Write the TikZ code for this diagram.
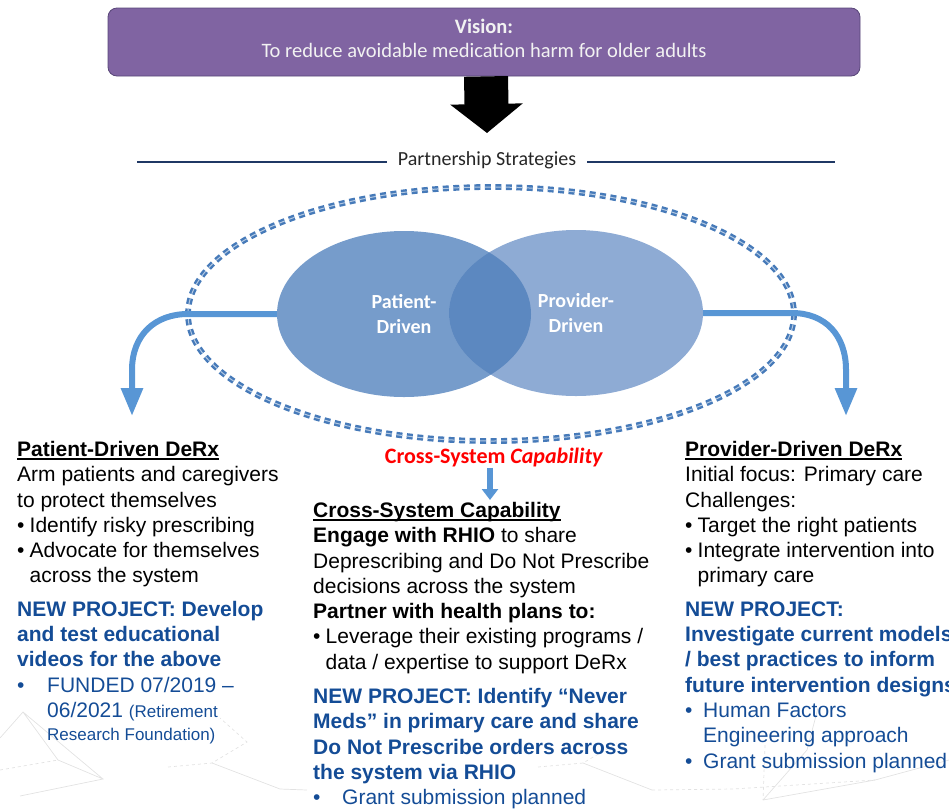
\documentclass[tikz,border=0pt]{standalone}
\usepackage{fontspec}
\setmainfont{Liberation Sans}
\newfontfamily\cali{Carlito}
\usetikzlibrary{arrows.meta,shapes.geometric,positioning}

\definecolor{visionpurple}{RGB}{128,100,162}
\definecolor{visionedge}{RGB}{88,70,120}
\definecolor{stratnavy}{RGB}{31,56,100}
\definecolor{ringblue}{RGB}{70,122,185}
\definecolor{patblue}{RGB}{118,156,203}
\definecolor{provblue}{RGB}{142,171,212}
\definecolor{bothblue}{RGB}{92,136,192}
\definecolor{flowblue}{RGB}{88,150,213}
\definecolor{projblue}{RGB}{20,76,150}
\definecolor{netgray}{RGB}{226,226,226}

\newcommand\hd[1]{\setbox0\hbox{\bfseries #1}\rlap{\rule[-3.6pt]{\wd0}{1.8pt}}\box0}
\newcommand\bu{\makebox[12.5pt][l]{\textbullet}}
\newcommand\ind{\hspace*{12.5pt}}
\newcommand\np[1]{{\color{projblue}\bfseries #1}}

\begin{document}
\begin{tikzpicture}[x=1pt,y=-1pt,
  vision box/.style={rectangle,rounded corners=9pt,fill=visionpurple,draw=visionedge,line width=0.8pt,minimum width=752pt,minimum height=68pt},
  cali text/.style={font=\cali\fontsize{20}{24}\selectfont,align=center,inner sep=0pt},
  venn/.style={ellipse,inner sep=0pt,minimum width=254pt,minimum height=166pt,text=white,font=\cali\bfseries\fontsize{20}{25}\selectfont,align=center},
  flow/.style={draw=flowblue,line width=6pt,-{Triangle[width=21pt,length=28pt]}},
  block/.style={anchor=north west,inner sep=0pt,align=left,font=\fontsize{21}{25.3}\selectfont}]
  \useasboundingbox (0,0) rectangle (949,809);
  % faint network behind
  \draw[netgray,line width=0.7pt] (0,738) -- (23,712) -- (58,760) -- (103,779) -- (20,796)
    (23,712) -- (103,779) (212,763) -- (280,789) -- (307,790) (583,763) -- (652,790)
    (763,800) -- (875,780) -- (949,760) (818,708) -- (807,750) -- (763,800);
  \draw[netgray,line width=0.7pt,dashed] (0,770) -- (58,760) (168,767) -- (212,763) -- (247,742) -- (220,718)
    (538,767) -- (583,763) -- (617,743) (652,790) -- (733,789) -- (875,780) (765,745) -- (763,800);

  % vision
  \node[vision box] (vis) at (484,42) {};
  \node[cali text,text=white!95!black,font=\cali\fontsize{20.5}{24}\selectfont] (vistxt) at ([yshift=4pt]vis.center) {\bfseries Vision:\\To reduce avoidable medication harm for older adults};
  \coordinate (vtip) at (487,133);
  \draw[line width=44pt,-{Triangle[width=71pt,length=29pt]}] ([xshift=2pt]vis.south) -- (vtip);

  % partnership strategies
  \node[cali text,text=black!85,inner xsep=11pt] (ps) at (487,160) {Partnership Strategies};
  \coordinate (psl) at (137,162);
  \coordinate (psr) at (835,162);
  \draw[stratnavy,line width=2pt] (psl) -- (ps.west |- psl) (ps.east |- psr) -- (psr);

  \draw[ringblue,line width=2.4pt,double=ringblue!40!white,double distance=1pt,dash pattern=on 6pt off 4.5pt] (491,314) ellipse [x radius=303,y radius=127];

  % venn
  \node[venn,fill=patblue] (pat) at (404,314) {Patient-\\Driven};
  \node[venn,fill=provblue] (prov) at (576,313) {Provider-\\Driven};
  \begin{scope}
    \clip (pat.center) ellipse [x radius=127,y radius=83];
    \fill[bothblue] (prov.center) ellipse [x radius=127,y radius=83];
  \end{scope}

  \coordinate (ltip) at (132,416);
  \coordinate (rtip) at (846,416);
  \draw[flow] (pat.west) -- (188,314) .. controls (155,314) and (132,335) .. (132,370) -- (ltip);
  \draw[flow] (prov.east) -- (792,313) .. controls (825,313) and (846,335) .. (846,370) -- (rtip);

  \node[cali text,text=red,font=\cali\bfseries\fontsize{22}{26}\selectfont] (crs) at (494,458) {Cross-System \textit{Capability}};
  \coordinate (ctip) at (490,500);
  \draw[flowblue,line width=6pt,-{Triangle[width=16pt,length=11pt]}] ([xshift=-4pt]crs.south) -- (ctip);

  % text blocks
  \node[block] (lft) at (17,441) {\hd{Patient-Driven DeRx}\\
    Arm patients and caregivers\\
    to protect themselves\\
    \bu Identify risky prescribing\\
    \bu Advocate for themselves\\
    \ind across the system\\[8pt]
    \np{NEW PROJECT: Develop}\\
    \np{and test educational}\\
    \np{videos for the above}\\
    {\color{projblue}\makebox[30pt][l]{\textbullet}FUNDED 07/2019 –}\\
    {\color{projblue}\hspace*{30pt}06/2021 {\fontsize{17}{20}\selectfont (Retirement}}\\[-2pt]
    {\color{projblue}\fontsize{17}{20}\selectfont\hspace*{30pt}Research Foundation)}};

  \node[block] (mid) at (313,502) {\hd{Cross-System Capability}\\
    {\bfseries Engage with RHIO} to share\\
    Deprescribing and Do Not Prescribe\\
    decisions across the system\\
    {\bfseries Partner with health plans to:}\\
    \bu Leverage their existing programs /\\
    \ind data / expertise to support DeRx\\[9pt]
    \np{NEW PROJECT: Identify “Never}\\
    \np{Meds” in primary care and share}\\
    \np{Do Not Prescribe orders across}\\
    \np{the system via RHIO}\\
    {\color{projblue}\makebox[29pt][l]{\textbullet}Grant submission planned}};

  \node[block] (rgt) at (685,441) {\hd{Provider-Driven DeRx}\\
    Initial focus: Primary care\\
    Challenges:\\
    \bu Target the right patients\\
    \bu Integrate intervention into\\
    \ind primary care\\[8pt]
    \np{NEW PROJECT:}\\
    \np{Investigate current models}\\
    \np{/ best practices to inform}\\
    \np{future intervention designs}\\
    {\color{projblue}\makebox[18pt][l]{\textbullet}Human Factors}\\
    {\color{projblue}\hspace*{18pt}Engineering approach}\\
    {\color{projblue}\makebox[18pt][l]{\textbullet}Grant submission planned}};
\end{tikzpicture}
\end{document}
